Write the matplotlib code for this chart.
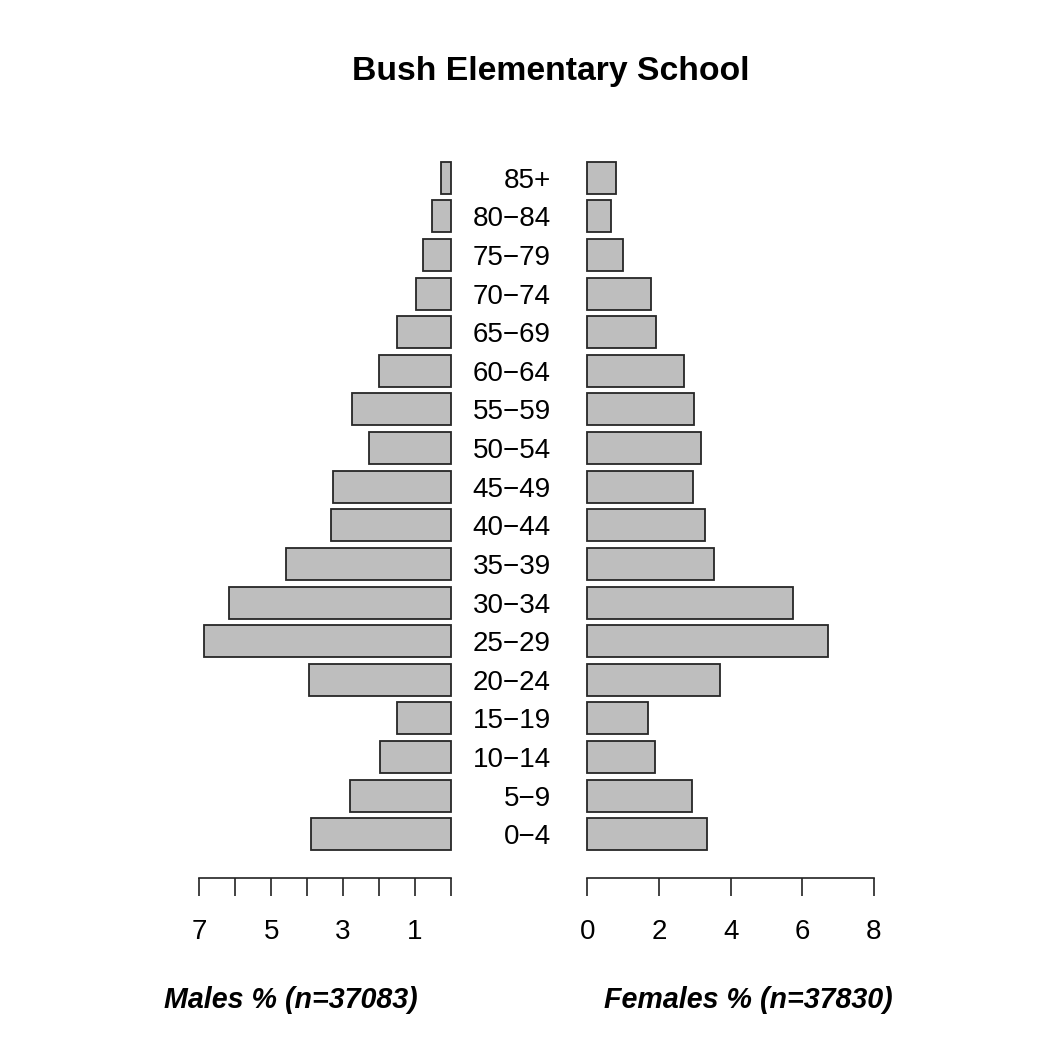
import matplotlib
matplotlib.use("Agg")
import matplotlib.pyplot as plt
import matplotlib.transforms as mtransforms

plt.rcParams['font.family'] = ['Liberation Sans', 'DejaVu Sans']

# age groups, bottom to top
ages = ["0\u22124", "5\u22129", "10\u221214", "15\u221219", "20\u221224", "25\u221229",
        "30\u221234", "35\u221239", "40\u221244", "45\u221249", "50\u221254", "55\u221259",
        "60\u221264", "65\u221269", "70\u221274", "75\u221279", "80\u221284", "85+"]
males = [3.88, 2.79, 1.98, 1.50, 3.95, 6.86, 6.18, 4.58, 3.34, 3.27,
         2.27, 2.75, 2.00, 1.50, 0.97, 0.77, 0.51, 0.28]
females = [3.33, 2.91, 1.90, 1.69, 3.71, 6.71, 5.75, 3.54, 3.28, 2.96,
           3.17, 2.97, 2.71, 1.93, 1.77, 1.00, 0.67, 0.81]
male_ticks = [7, 6, 5, 4, 3, 2, 1, 0]
female_ticks = [0, 2, 4, 6, 8]
title = "Bush Elementary School"
male_label = "Males % (n=37083)"
female_label = "Females % (n=37830)"

W, H = 1038, 1037
fig = plt.figure(figsize=(W / 100, H / 100), dpi=100)

bottom = 1 - 878 / H
height = (878 - 150) / H
axL = fig.add_axes([199.3 / W, bottom, 251.4 / W, height])
axR = fig.add_axes([587.3 / W, bottom, 286.7 / W, height])

ypos = list(range(len(ages)))
bar_kw = dict(height=0.83, color='#bebebe', edgecolor='#262626', linewidth=1.3, clip_on=False)
axL.barh(ypos, males, **bar_kw)
axR.barh(ypos, females, **bar_kw)

axL.set_xlim(7, 0)
axR.set_xlim(0, 8)
for ax in (axL, axR):
    ax.set_ylim(-1.132, 17.717)
    ax.set_yticks([])
    for s in ('top', 'left', 'right'):
        ax.spines[s].set_visible(False)
    ax.spines['bottom'].set_linewidth(1.2)
    ax.spines['bottom'].set_color('#222222')
    ax.tick_params(axis='x', direction='out', length=13, width=1.2, color='#222222',
                   labelsize=20, pad=16.5)
    ax.patch.set_visible(False)

axL.set_xticks(male_ticks, labels=[str(t) if t % 2 else '' for t in male_ticks])
axR.set_xticks(female_ticks, labels=[str(t) for t in female_ticks])

# age labels between the two halves
trans = mtransforms.blended_transform_factory(fig.transFigure, axL.transData)
trans = mtransforms.offset_copy(trans, fig=fig, y=-10, units='dots')
for y, lab in zip(ypos, ages):
    fig.text(551 / W, y, lab, transform=trans, ha='right', va='baseline', fontsize=20)

fig.text(551 / W, 1 - 80 / H, title, ha='center', va='baseline',
         fontsize=24.3, fontweight='bold')
fig.text(290.5 / W, 1 - 1008 / H, male_label, ha='center', va='baseline',
         fontsize=20.6, fontweight='bold', fontstyle='italic')
fig.text(748 / W, 1 - 1008 / H, female_label, ha='center', va='baseline',
         fontsize=20.6, fontweight='bold', fontstyle='italic')

fig.savefig("out.png", dpi=100, facecolor='white')
